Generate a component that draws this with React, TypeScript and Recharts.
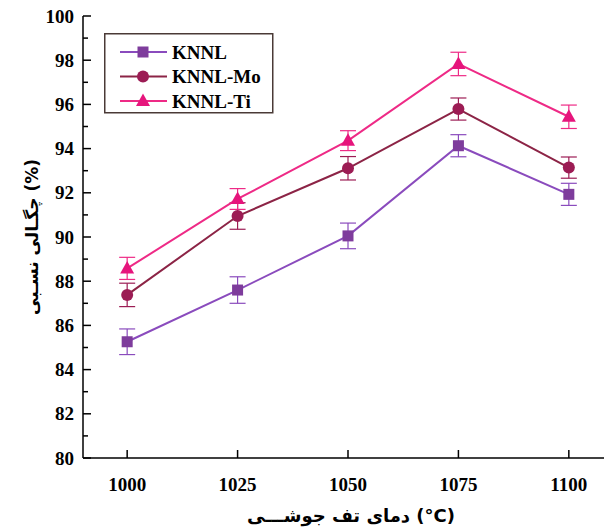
import React from "react";
import { LineChart, Line, XAxis, YAxis, ErrorBar } from "recharts";

const temperatures = [1000, 1025, 1050, 1075, 1100];
const knnl = [85.26, 87.6, 90.05, 94.13, 91.93];
const knnlErr = [0.58, 0.6, 0.58, 0.5, 0.5];
const knnlMo = [87.38, 90.95, 93.11, 95.79, 93.14];
const knnlMoErr = [0.53, 0.6, 0.53, 0.5, 0.48];
const knnlTi = [88.58, 91.72, 94.36, 97.83, 95.44];
const knnlTiErr = [0.5, 0.47, 0.45, 0.53, 0.53];

const xTicks = [1000, 1025, 1050, 1075, 1100];
const yTicks = [80, 81, 82, 83, 84, 85, 86, 87, 88, 89, 90, 91, 92, 93, 94, 95, 96, 97, 98, 99, 100];

const seriesNames = ["KNNL", "KNNL-Mo", "KNNL-Ti"];
const xLabel = "دمای تف جوشـــی (°C)";
const yLabel = "چگـالی نسـبی (%)";

const COLORS = {
  knnl: { line: "#8a4bbd", mark: "#7e3c9c" },
  mo: { line: "#8c2446", mark: "#9c1c54" },
  ti: { line: "#ee2a86", mark: "#e6157c" },
};

const data = temperatures.map((t, i) => ({
  t,
  knnl: knnl[i],
  knnlErr: knnlErr[i],
  mo: knnlMo[i],
  moErr: knnlMoErr[i],
  ti: knnlTi[i],
  tiErr: knnlTiErr[i],
}));

const FONT = "'Liberation Serif', 'Times New Roman', serif";
const AR_FONT = "'DejaVu Sans', 'Noto Sans', sans-serif";

const SquareDot = (props: any) => {
  const { cx, cy, fill } = props;
  if (cx == null || cy == null) return null;
  return <rect x={cx - 5.5} y={cy - 5.5} width={11} height={11} fill={fill} />;
};
const CircleDot = (props: any) => {
  const { cx, cy, fill } = props;
  if (cx == null || cy == null) return null;
  return <circle cx={cx} cy={cy} r={6} fill={fill} />;
};
const TriDot = (props: any) => {
  const { cx, cy, fill } = props;
  if (cx == null || cy == null) return null;
  return <polygon points={`${cx},${cy - 7.5} ${cx - 7},${cy + 5} ${cx + 7},${cy + 5}`} fill={fill} />;
};

const YTick = (props: any) => {
  const { x, y, payload } = props;
  const v = payload.value;
  const major = v % 2 === 0;
  return (
    <g>
      <line x1={x} y1={y} x2={x + (major ? 8 : 5)} y2={y} stroke="#000" strokeWidth={1.5} />
      {major && (
        <text x={x - 9} y={y + 6.5} textAnchor="end" fontFamily={FONT} fontWeight="bold" fontSize={19} fill="#000">
          {v}
        </text>
      )}
    </g>
  );
};

const XTick = (props: any) => {
  const { x, y, payload } = props;
  return (
    <g>
      <line x1={x} y1={y} x2={x} y2={y - 8} stroke="#000" strokeWidth={1.5} />
      <text x={x} y={y + 33} textAnchor="middle" fontFamily={FONT} fontWeight="bold" fontSize={19} fill="#000">
        {payload.value}
      </text>
    </g>
  );
};

const legendItems = [
  { name: seriesNames[0], c: COLORS.knnl, shape: "square" },
  { name: seriesNames[1], c: COLORS.mo, shape: "circle" },
  { name: seriesNames[2], c: COLORS.ti, shape: "tri" },
];

const LegendBox = () => (
  <svg width={170} height={81} style={{ display: "block" }}>
    <rect x={0.75} y={0.75} width={168} height={79} fill="#fff" stroke="#4a3a36" strokeWidth={1.5} />
    {legendItems.map((it, i) => {
      const cy = 19 + i * 24.5;
      const cx = 39;
      return (
        <g key={it.name}>
          <line x1={16} y1={cy} x2={63} y2={cy} stroke={it.c.line} strokeWidth={2} />
          {it.shape === "square" && <rect x={cx - 5.5} y={cy - 5.5} width={11} height={11} fill={it.c.mark} />}
          {it.shape === "circle" && <circle cx={cx} cy={cy} r={6} fill={it.c.mark} />}
          {it.shape === "tri" && (
            <polygon points={`${cx},${cy - 7.5} ${cx - 7},${cy + 5} ${cx + 7},${cy + 5}`} fill={it.c.mark} />
          )}
          <text x={68} y={cy + 6.5} fontFamily={FONT} fontWeight="bold" fontSize={19} fill="#000">
            {it.name}
          </text>
        </g>
      );
    })}
  </svg>
);

export default function App() {
  return (
    <div style={{ width: 604, height: 530, overflow: "hidden", position: "relative", marginTop: -8 }}>
      <LineChart width={610} height={530} data={data} margin={{ top: 16, right: 5, left: 0, bottom: 0 }}>
        <XAxis
          dataKey="t"
          type="number"
          domain={[990, 1110]}
          ticks={xTicks}
          allowDataOverflow
          tickSize={0}
          tickMargin={0}
          tickLine={false}
          tick={<XTick />}
          axisLine={{ stroke: "#000", strokeWidth: 1.5 }}
          height={72}
        />
        <XAxis
          xAxisId="top"
          orientation="top"
          dataKey="t"
          type="number"
          domain={[990, 1110]}
          tick={false}
          tickLine={false}
          axisLine={{ stroke: "#000", strokeWidth: 1.5 }}
          height={0}
        />
        <YAxis
          type="number"
          domain={[80, 100]}
          ticks={yTicks}
          interval={0}
          allowDataOverflow
          tickSize={0}
          tickMargin={0}
          tickLine={false}
          tick={<YTick />}
          axisLine={{ stroke: "#000", strokeWidth: 1.5 }}
          width={75}
        />
        <YAxis
          yAxisId="right"
          orientation="right"
          type="number"
          domain={[80, 100]}
          tick={false}
          tickLine={false}
          axisLine={{ stroke: "#000", strokeWidth: 1.5 }}
          width={0}
        />
        <Line
          dataKey="knnl"
          name={seriesNames[0]}
          stroke={COLORS.knnl.line}
          strokeWidth={2}
          fill={COLORS.knnl.mark}
          dot={<SquareDot fill={COLORS.knnl.mark} />}
          isAnimationActive={false}
        >
          <ErrorBar dataKey="knnlErr" width={8} stroke={COLORS.knnl.line} strokeWidth={1.2} direction="y" />
        </Line>
        <Line
          dataKey="mo"
          name={seriesNames[1]}
          stroke={COLORS.mo.line}
          strokeWidth={2}
          fill={COLORS.mo.mark}
          dot={<CircleDot fill={COLORS.mo.mark} />}
          isAnimationActive={false}
        >
          <ErrorBar dataKey="moErr" width={8} stroke={COLORS.mo.mark} strokeWidth={1.2} direction="y" />
        </Line>
        <Line
          dataKey="ti"
          name={seriesNames[2]}
          stroke={COLORS.ti.line}
          strokeWidth={2}
          fill={COLORS.ti.mark}
          dot={<TriDot fill={COLORS.ti.mark} />}
          isAnimationActive={false}
        >
          <ErrorBar dataKey="tiErr" width={8} stroke={COLORS.ti.line} strokeWidth={1.2} direction="y" />
        </Line>
        <text
          x={0}
          y={0}
          transform="translate(30,237) rotate(-90)"
          textAnchor="middle"
          fontFamily={AR_FONT}
          fontWeight="bold"
          fontSize={17}
          fill="#000"
        >
          {yLabel}
        </text>
        <text
          x={343}
          y={522}
          textAnchor="middle"
          fontFamily={AR_FONT}
          fontWeight="bold"
          fontSize={18}
          fill="#000"
        >
          {xLabel}
        </text>
      </LineChart>
      <div style={{ position: "absolute", left: 96, top: 33 }}>
        <LegendBox />
      </div>
    </div>
  );
}
